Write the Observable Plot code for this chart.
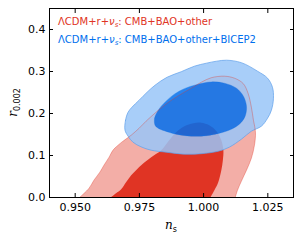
<!DOCTYPE html>
<html><head><meta charset="utf-8">
<script src="https://cdn.jsdelivr.net/npm/d3@7"></script>
<script src="https://cdn.jsdelivr.net/npm/@observablehq/plot@0.6"></script>
<style>body{margin:0;background:#fff;}</style>
</head><body><div id="chart"></div>
<script>
// Red: ΛCDM+r+νs CMB+BAO+other ; 2σ (outer) and 1σ (inner) contours in (n_s, r_0.002)
const redOuterNs = [0.9517,0.9554,0.9573,0.9596,0.9612,0.9632,0.9647,0.9667,0.9686,0.9718,0.9749,0.9776,0.9815,0.9858,0.9905,0.9952,0.9991,1.0030,1.0081,1.0120,1.0154,1.0173,1.0186,1.0194,1.0202,1.0198,1.0186,1.0167,1.0147,1.0132,1.0123];
const redOuterR  = [0.0,0.0221,0.0412,0.0602,0.0769,0.0960,0.1126,0.1245,0.1340,0.1483,0.1650,0.1817,0.2031,0.2245,0.2436,0.2602,0.2745,0.2852,0.2888,0.2841,0.2714,0.2483,0.2150,0.1840,0.1555,0.1245,0.0936,0.0650,0.0388,0.0174,0.0];
const redInnerNs = [0.9638,0.9659,0.9679,0.9698,0.9718,0.9737,0.9757,0.9796,0.9835,0.9866,0.9893,0.9925,0.9960,0.9991,1.0022,1.0050,1.0069,1.0077,1.0075,1.0069,1.0057,1.0042,1.0026];
const redInnerR  = [0.0,0.0102,0.0198,0.0364,0.0531,0.0650,0.0769,0.0960,0.1126,0.1364,0.1555,0.1698,0.1769,0.1781,0.1721,0.1579,0.1364,0.1126,0.0888,0.0650,0.0364,0.0174,0.0];
// Blue: + BICEP2
const blueOuterNs = [0.9694,0.9696,0.9706,0.9721,0.9749,0.9780,0.9811,0.9858,0.9913,0.9964,1.0011,1.0050,1.0089,1.0147,1.0210,1.0249,1.0268,1.0272,1.0264,1.0249,1.0225,1.0186,1.0147,1.0100,1.0057,0.9991,0.9925,0.9854,0.9796,0.9757,0.9725,0.9706];
const blueOuterR  = [0.1602,0.1840,0.2031,0.2150,0.2317,0.2507,0.2674,0.2864,0.2995,0.3126,0.3198,0.3245,0.3269,0.3210,0.3007,0.2841,0.2626,0.2364,0.2079,0.1888,0.1698,0.1579,0.1388,0.1198,0.1102,0.1043,0.1031,0.1079,0.1126,0.1205,0.1317,0.1460];
const blueInnerNs = [0.9811,0.9809,0.9819,0.9835,0.9858,0.9886,0.9925,0.9972,1.0030,1.0081,1.0128,1.0155,1.0167,1.0163,1.0147,1.0116,1.0069,1.0011,0.9952,0.9893,0.9847,0.9823];
const blueInnerR  = [0.1721,0.1888,0.2031,0.2174,0.2317,0.2460,0.2591,0.2686,0.2752,0.2721,0.2602,0.2412,0.2174,0.1960,0.1793,0.1650,0.1543,0.1471,0.1460,0.1507,0.1590,0.1650];

const xTicks = [0.950, 0.975, 1.000, 1.025];
const yTicks = [0.0, 0.1, 0.2, 0.3, 0.4];
const xDomain = [0.940, 1.035];
const yDomain = [0, 0.45];
const legendRed = ["ΛCDM+r+", "ν", "s", ": CMB+BAO+other"];
const legendBlue = ["ΛCDM+r+", "ν", "s", ": CMB+BAO+other+BICEP2"];
const xLabel = ["n", "s"];
const yLabel = ["r", "0.002"];

const pts = (xs, ys) => xs.map((x, i) => ({x, y: ys[i]}));
const redOuter = pts(redOuterNs, redOuterR);
const redInner = pts(redInnerNs, redInnerR);
const blueOuter = pts(blueOuterNs, blueOuterR);
const blueInner = pts(blueInnerNs, blueInnerR);

const RED = "#E03424", RED_PALE = "#F3AEA7", BLUE = "#006FED", BLUE_PALE = "#99C5F8";
const none = () => "";

const chart = Plot.plot({
  width: 302, height: 244,
  marginLeft: 49, marginRight: 9, marginTop: 8, marginBottom: 47,
  style: {fontFamily: "DejaVu Sans", fontSize: "11px", color: "black", background: "white"},
  x: {domain: xDomain},
  y: {domain: yDomain},
  marks: [
    Plot.line(redOuter, {x: "x", y: "y", fill: RED_PALE, stroke: "none", curve: "catmull-rom", ariaDescription: "red-outer"}),
    Plot.line(redInner, {x: "x", y: "y", fill: RED, stroke: "none", curve: "catmull-rom", ariaDescription: "red-inner"}),
    Plot.line(blueOuter, {x: "x", y: "y", fill: BLUE_PALE, fillOpacity: 0.85, stroke: "#5f9fe9", strokeWidth: 0.7, curve: "catmull-rom-closed", ariaDescription: "blue-outer"}),
    Plot.line(blueInner, {x: "x", y: "y", fill: BLUE, fillOpacity: 0.85, stroke: "none", curve: "catmull-rom-closed", ariaDescription: "blue-inner"}),
    Plot.line(redOuter, {x: "x", y: "y", fill: "none", stroke: RED, strokeOpacity: 0.45, strokeWidth: 0.8, curve: "catmull-rom", ariaDescription: "red-outer-edge"}),
    Plot.frame({stroke: "black", strokeWidth: 1}),
    Plot.axisX(xTicks, {anchor: "bottom", tickSize: 4, dy: -4, tickFormat: none, label: null, stroke: "black"}),
    Plot.axisX(xTicks, {anchor: "top", tickSize: 4, dy: 4, tickFormat: none, label: null, stroke: "black"}),
    Plot.axisX(xTicks, {anchor: "bottom", tickSize: 0, tickPadding: 6, tickFormat: d3.format(".3f"), label: null, fill: "black"}),
    Plot.axisY(yTicks, {anchor: "left", tickSize: 4, dx: 4, tickFormat: none, label: null, stroke: "black"}),
    Plot.axisY(yTicks, {anchor: "right", tickSize: 4, dx: -4, tickFormat: none, label: null, stroke: "black"}),
    Plot.axisY(yTicks, {anchor: "left", tickSize: 0, tickPadding: 4, tickFormat: d3.format(".1f"), label: null, fill: "black"})
  ]
});
document.getElementById("chart").appendChild(chart);

const svg = d3.select(chart);
// blue outer band = annulus between the 2σ and 1σ levels
const bo = svg.select('g[aria-description="blue-outer"] path');
const bi = svg.select('g[aria-description="blue-inner"] path');
if (!bo.empty() && !bi.empty()) {
  bo.attr("d", bo.attr("d") + bi.attr("d")).attr("fill-rule", "evenodd");
}

const xs = chart.scale("x"), ys = chart.scale("y");
const xl = xs.range[0], xr = xs.range[1];
const yb = ys.range[0], yt = ys.range[1];

// x label
const xt = svg.append("text").attr("x", (xl + xr) / 2).attr("y", yb + 32)
  .attr("text-anchor", "middle").attr("fill", "black")
  .style("font-family", "DejaVu Serif").style("font-style", "italic").style("font-size", "12px");
xt.append("tspan").text(xLabel[0]);
xt.append("tspan").attr("dy", 3).style("font-size", "8px").style("font-style", "normal").style("font-family", "DejaVu Sans").text(xLabel[1]);

// y label
const yt2 = svg.append("text").attr("transform", `translate(${xl - 32},${(yb + yt) / 2}) rotate(-90)`)
  .attr("text-anchor", "middle").attr("fill", "black")
  .style("font-family", "DejaVu Serif").style("font-style", "italic").style("font-size", "12px");
yt2.append("tspan").text(yLabel[0]);
yt2.append("tspan").attr("dy", 3).style("font-size", "8px").style("font-style", "normal").style("font-family", "DejaVu Sans").text(yLabel[1]);

// legend
function legendLine(parts, color, y) {
  const t = svg.append("text").attr("x", xl + 9).attr("y", y).attr("fill", color)
    .attr("text-anchor", "start")
    .style("font-family", "DejaVu Sans").style("font-size", "10px");
  t.append("tspan").text(parts[0]);
  t.append("tspan").style("font-style", "italic").text(parts[1]);
  t.append("tspan").attr("dy", 2).style("font-size", "7px").style("font-style", "italic").text(parts[2]);
  t.append("tspan").attr("dy", -2).text(parts[3]);
}
legendLine(legendRed, RED, yt + 17);
legendLine(legendBlue, BLUE, yt + 34.5);
</script>
</body></html>
